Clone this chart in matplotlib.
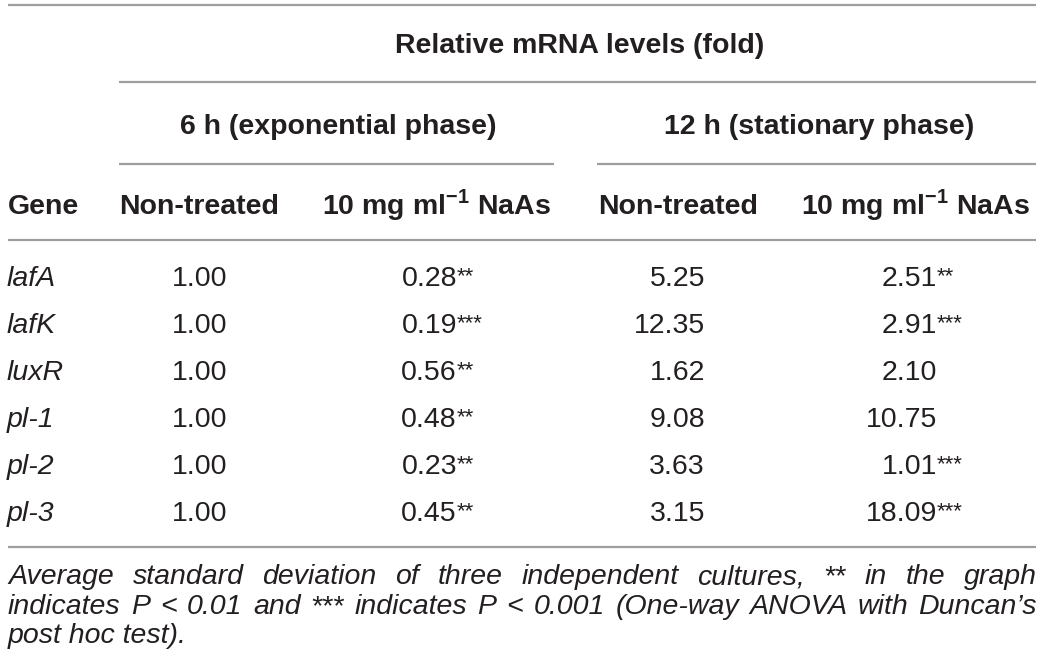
import matplotlib
matplotlib.use("Agg")
import matplotlib.pyplot as plt

genes = ["lafA", "lafK", "luxR", "pl-1", "pl-2", "pl-3"]
nontreated_6h = ["1.00", "1.00", "1.00", "1.00", "1.00", "1.00"]
naas_6h = ["0.28", "0.19", "0.56", "0.48", "0.23", "0.45"]
naas_6h_sig = ["**", "***", "**", "**", "**", "**"]
nontreated_12h = ["5.25", "12.35", "1.62", "9.08", "3.63", "3.15"]
naas_12h = ["2.51", "2.91", "2.10", "10.75", "1.01", "18.09"]
naas_12h_sig = ["**", "***", "", "", "***", "***"]

title = "Relative mRNA levels (fold)"
phases = ["6 h (exponential phase)", "12 h (stationary phase)"]
col_heads = ["Gene", "Non-treated", r"10 mg ml$^{\mathbf{-1}}$ NaAs",
             "Non-treated", r"10 mg ml$^{\mathbf{-1}}$ NaAs"]
note_lines = [
    "Average standard deviation of three independent cultures, ** in the graph",
    "indicates P < 0.01 and *** indicates P < 0.001 (One-way ANOVA with Duncan\u2019s",
    "post hoc test).",
]

plt.rcParams["font.family"] = "Liberation Sans"
plt.rcParams["mathtext.fontset"] = "custom"
plt.rcParams["mathtext.rm"] = "Liberation Sans"
plt.rcParams["mathtext.bf"] = "Liberation Sans:bold"

INK = "#231f20"
RULE = "#9e9e9e"
FS = 20.5

fig = plt.figure(figsize=(10.42, 6.71), dpi=100)
ax = fig.add_axes([0, 0, 1, 1])
ax.set_xlim(0, 1042)
ax.set_ylim(671, 0)
ax.axis("off")


def rule(y, x0, x1):
    ax.plot([x0, x1], [y, y], color=RULE, lw=1.6, solid_capstyle="butt")


# rules
rule(5, 8, 1036)
rule(82, 119, 1036)
rule(164, 119, 554)
rule(164, 597, 1036)
rule(240, 8, 1036)
rule(547, 8, 1036)

# header
ax.text(580, 53, title, ha="center", va="baseline", fontsize=FS, fontweight="bold", color=INK)
for x, label in zip([338, 819], phases):
    ax.text(x, 134, label, ha="center", va="baseline", fontsize=FS, fontweight="bold", color=INK)
head_x = [8, 199, 437, 678, 916]
for i, (x, label) in enumerate(zip(head_x, col_heads)):
    ax.text(x, 214, label, ha="left" if i == 0 else "center", va="baseline",
            fontsize=FS, fontweight="bold", color=INK)

# body
row_y = [286 + 47 * i for i in range(len(genes))]
columns = [(227, nontreated_6h, None), (457, naas_6h, naas_6h_sig),
           (705, nontreated_12h, None), (937, naas_12h, naas_12h_sig)]
for r, y in enumerate(row_y):
    ax.text(7, y, genes[r], ha="left", va="baseline", fontsize=FS, style="italic", color=INK)
    for x, values, sig in columns:
        ax.text(x, y, values[r], ha="right", va="baseline", fontsize=FS, color=INK)
        if sig and sig[r]:
            ax.text(x, y - 4, sig[r], ha="left", va="baseline", fontsize=16, color=INK)

# footnote, justified like the journal layout
renderer = fig.canvas.get_renderer()
note_y = [584, 614, 643]
for k, (line, y) in enumerate(zip(note_lines, note_y)):
    if k == len(note_lines) - 1:
        ax.text(8, y, line, ha="left", va="baseline", fontsize=FS, style="italic", color=INK)
        continue
    words = line.split(" ")
    texts = [ax.text(0, y, w, ha="left", va="baseline", fontsize=FS, style="italic", color=INK)
             for w in words]
    widths = [t.get_window_extent(renderer).width for t in texts]
    gap = (1037 - 8 - sum(widths)) / (len(words) - 1)
    x = 8
    for t, w in zip(texts, widths):
        t.set_x(x)
        x += w + gap

fig.savefig("out.png", dpi=100)
